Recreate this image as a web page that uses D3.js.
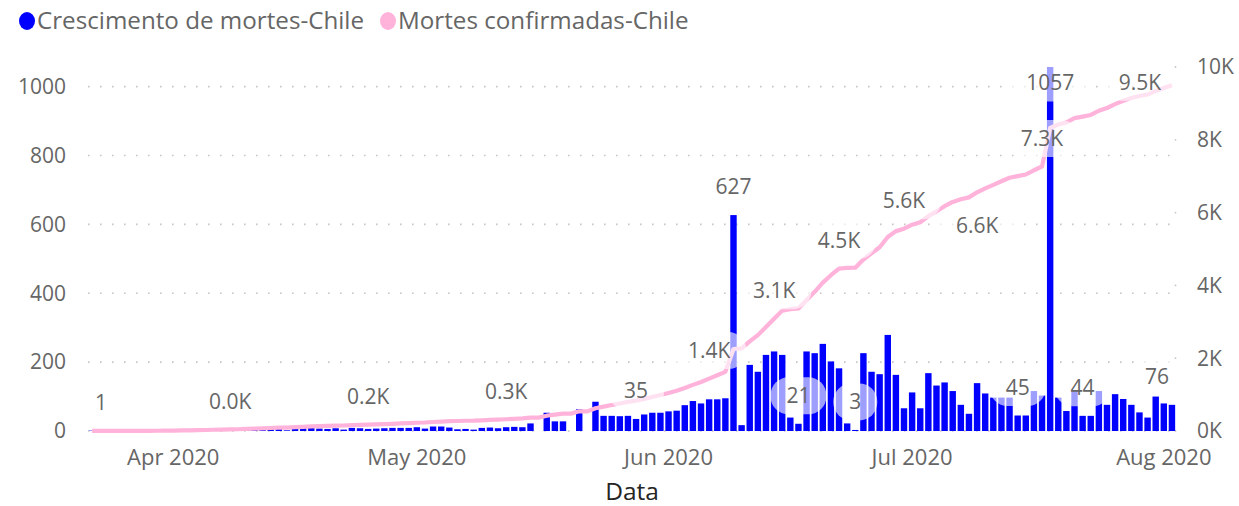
<!DOCTYPE html>
<html>
<head>
<meta charset="utf-8">
<script src="https://cdn.jsdelivr.net/npm/d3@7"></script>
<style>
  html, body { margin: 0; padding: 0; background: #fff; }
  svg { display: block; font-family: "Open Sans", "Noto Sans", sans-serif; }
</style>
</head>
<body>
<svg id="chart" width="1239" height="506"></svg>
<script>
// ---------------- DATA ----------------
const startDate = "2020-03-22";
const endDate = "2020-08-02";
const seriesNames = ["Crescimento de mortes-Chile", "Mortes confirmadas-Chile"];

// daily growth of deaths (bars, left axis); null = no bar
const growth = [
  1, 0, 1, 0, 1, 1, 1, 1, 1, 1,
  4, 4, 2, 4, 5, 7, 3, 6, 5, 9,
  8, 8, 9, 10, 2, 11, 11, 10, 7, 6,
  8, 4, 9, 8, 6, 7, 8, 9, 9, 9,
  11, 7, 13, 13, 10, 5, 6, 4, 9, 10,
  8, 11, 12, 11, 22, null, 53, 28, 28, null,
  63, null, 85, 44, 44, 43, 44, 35, 48, 53,
  53, 57, 59, 75, 87, 80, 92, 92, 95, 627,
  17, 192, 172, 221, 231, 221, 39, 21, 231, 226,
  253, 202, 182, 22, 3, 226, 172, 165, 279, 163,
  66, 112, 66, 168, 132, 141, 116, 76, 50, 139,
  109, 97, 97, 97, 45, 45, 116, 103, 1057, 97,
  58, 116, 44, 44, 116, 76, 107, 93, 76, 54,
  39, 100, 80, 76
];

// confirmed deaths, cumulative (line, right axis)
const confirmed = [
  1, 1, 2, 2, 3, 4, 5, 6, 7, 8,
  12, 16, 18, 22, 27, 34, 37, 43, 48, 57,
  65, 73, 82, 92, 94, 105, 116, 126, 133, 139,
  147, 151, 160, 168, 174, 181, 189, 198, 207, 216,
  227, 234, 247, 260, 270, 275, 281, 285, 294, 304,
  312, 323, 335, 346, 368, 368, 421, 449, 477, 477,
  540, 540, 625, 669, 713, 756, 800, 835, 883, 936,
  989, 1046, 1105, 1180, 1267, 1347, 1439, 1531, 1626, 2253,
  2270, 2462, 2634, 2855, 3086, 3307, 3346, 3367, 3598, 3824,
  4077, 4279, 4461, 4483, 4486, 4712, 4884, 5049, 5328, 5491,
  5557, 5669, 5735, 5903, 6035, 6176, 6292, 6368, 6418, 6557,
  6666, 6763, 6860, 6957, 7002, 7047, 7163, 7266, 8323, 8420,
  8478, 8594, 8638, 8682, 8798, 8874, 8981, 9074, 9150, 9204,
  9243, 9343, 9423, 9499
];

const leftTicks = [0, 200, 400, 600, 800, 1000];
const rightTicks = [0, 2000, 4000, 6000, 8000, 10000];
const rightTickLabels = ["0K", "2K", "4K", "6K", "8K", "10K"];
const monthTicks = ["2020-04-01", "2020-05-01", "2020-06-01", "2020-07-01", "2020-08-01"];
const monthTickLabels = ["Apr 2020", "May 2020", "Jun 2020", "Jul 2020", "Aug 2020"];
const xTitle = "Data";

// which points carry data labels
const barLabelIdx = [0, 67, 79, 87, 94, 114, 118, 122, 133];
const lineLabelIdx = [17, 34, 51, 76, 84, 92, 100, 109, 117, 133];

// ---------------- STYLE / LAYOUT ----------------
const W = 1239, H = 506;
const plot = { left: 88, right: 1176, top: 67, bottom: 431 };
const blue = "#0000FF", pink = "#FFB3DA";
const textGray = "#666666";
const fontSize = 21;
// label placement tweaks (style only)
const barLabelShift = { 0: [9, 0], 118: [0, 44], 133: [-15, 0] };
const lineLabelShift = { 109: [0, 61], 133: [-32, 25] };

const svg = d3.select("#chart");
const parse = d3.utcParse("%Y-%m-%d");
const dates = d3.utcDays(parse(startDate), d3.utcDay.offset(parse(endDate), 1));

const halfDay = 12 * 3600 * 1000;
const x = d3.scaleUtc()
  .domain([new Date(dates[0].getTime() - halfDay), new Date(dates[dates.length - 1].getTime() + halfDay)])
  .range([plot.left, plot.right]);
const pitch = (plot.right - plot.left) / dates.length;
const barW = pitch * 0.79;

const yL = d3.scaleLinear().domain([0, d3.max(growth)]).range([plot.bottom, plot.top]);
const yR = d3.scaleLinear().domain([0, 10000]).range([plot.bottom, plot.top]);

// gridlines (left axis)
svg.append("g").selectAll("line").data(leftTicks).join("line")
  .attr("x1", plot.left).attr("x2", plot.right - 6)
  .attr("y1", d => yL(d)).attr("y2", d => yL(d))
  .attr("stroke", "#c8c6c4").attr("stroke-width", 1.6)
  .attr("stroke-dasharray", "1.6 10.4");
// right axis gridline end dots
svg.append("g").selectAll("circle").data(rightTicks).join("circle")
  .attr("cx", plot.right - 0.5).attr("cy", d => yR(d)).attr("r", 0.9)
  .attr("fill", "#c8c6c4");

// left axis labels
svg.append("g").selectAll("text").data(leftTicks).join("text")
  .attr("x", 66).attr("y", d => yL(d)).attr("dy", "0.35em")
  .attr("text-anchor", "end").attr("fill", textGray).attr("font-size", fontSize)
  .text(d => d);
// right axis labels
svg.append("g").selectAll("text").data(rightTicks).join("text")
  .attr("x", 1197).attr("y", d => yR(d)).attr("dy", "0.35em")
  .attr("text-anchor", "start").attr("fill", textGray).attr("font-size", fontSize)
  .text((d, i) => rightTickLabels[i]);
// x axis labels
svg.append("g").selectAll("text").data(monthTicks).join("text")
  .attr("x", d => x(parse(d))).attr("y", 457).attr("dy", "0.35em")
  .attr("text-anchor", "middle").attr("fill", textGray).attr("font-size", 22)
  .text((d, i) => monthTickLabels[i]);
svg.append("text").attr("x", (plot.left + plot.right) / 2).attr("y", 491).attr("dy", "0.35em")
  .attr("text-anchor", "middle").attr("fill", "#252423").attr("font-size", 24.5)
  .text(xTitle);

// bars
const barData = dates.map((d, i) => ({ d, v: growth[i], i })).filter(o => o.v != null && o.v > 0);
svg.append("g").selectAll("rect").data(barData).join("rect")
  .attr("x", o => x(o.d) - barW / 2).attr("width", barW)
  .attr("y", o => yL(o.v)).attr("height", o => yL(0) - yL(o.v))
  .attr("fill", blue);

// line
const line = d3.line().x((d, i) => x(dates[i])).y(d => yR(d));
svg.append("path").datum(confirmed).attr("d", line)
  .attr("fill", "none").attr("stroke", pink).attr("stroke-width", 4.2)
  .attr("stroke-linejoin", "round").attr("stroke-linecap", "butt");

// data labels
const fmtK = v => d3.format(".1f")(v / 1000) + "K";
const labels = [];
barLabelIdx.forEach(i => {
  const s = barLabelShift[i] || [0, 0];
  labels.push({ x: x(dates[i]) + s[0], y: yL(growth[i]) - 28 + s[1], t: String(growth[i]) });
});
lineLabelIdx.forEach(i => {
  const s = lineLabelShift[i] || [0, 0];
  labels.push({ x: x(dates[i]) + s[0], y: yR(confirmed[i]) - 28 + s[1], t: fmtK(confirmed[i]) });
});
const lg = svg.append("g");
labels.forEach(l => {
  const g = lg.append("g");
  const bg = g.append("rect");
  const t = g.append("text").attr("x", l.x).attr("y", l.y).attr("dy", "0.35em")
    .attr("text-anchor", "middle").attr("fill", textGray).attr("font-size", fontSize).text(l.t);
  const w = t.node().getComputedTextLength() + 32;
  bg.attr("x", l.x - w / 2).attr("y", l.y - 18.5).attr("width", w).attr("height", 37)
    .attr("rx", 18).attr("fill", "#fff").attr("fill-opacity", 0.62);
});

// legend
const legend = svg.append("g");
legend.append("ellipse").attr("cx", 27).attr("cy", 21).attr("rx", 8).attr("ry", 9).attr("fill", blue);
legend.append("text").attr("x", 37).attr("y", 21).attr("dy", "0.35em").attr("fill", textGray)
  .attr("font-size", 24.2).text(seriesNames[0]);
legend.append("ellipse").attr("cx", 388).attr("cy", 21).attr("rx", 8).attr("ry", 9).attr("fill", pink);
legend.append("text").attr("x", 398).attr("y", 21).attr("dy", "0.35em").attr("fill", textGray)
  .attr("font-size", 24.2).text(seriesNames[1]);
</script>
</body>
</html>
